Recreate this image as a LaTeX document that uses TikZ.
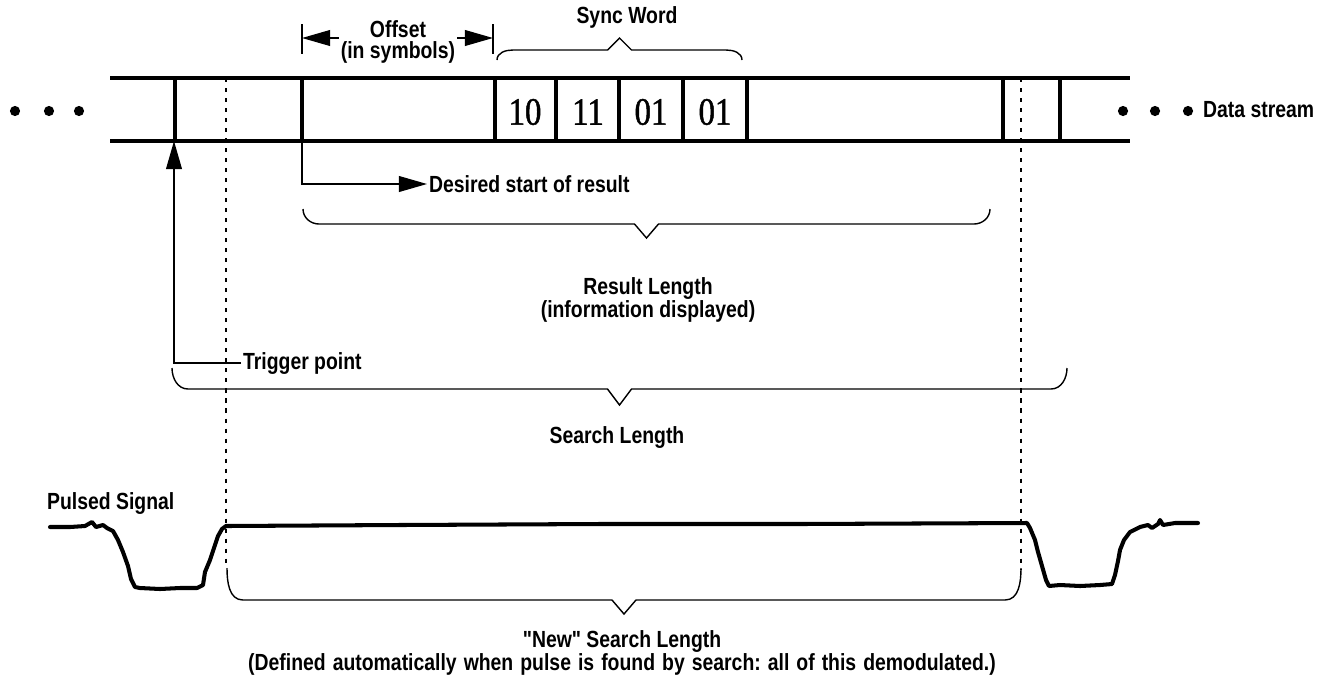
\documentclass[tikz,border=0pt]{standalone}
\usepackage{fontspec}
\newfontfamily\lblfont{Liberation Sans}[FakeStretch=0.83]
\newfontfamily\bitfont{Liberation Serif}[FakeStretch=0.85, FakeBold=1.2]
\usetikzlibrary{arrows.meta, positioning}
\tikzset{
    lbl/.style={font=\lblfont\bfseries\fontsize{13.3}{12}\selectfont, inner sep=1pt},
    bits/.style={font=\bitfont\fontsize{22}{22}\selectfont, inner sep=0pt},
    wall/.style={line width=2.2pt},
    guide/.style={line width=0.7pt, dash pattern=on 2.3pt off 3.4pt},
    brace line/.style={line width=0.8pt},
    pointer/.style={line width=0.8pt, -{Triangle[length=16pt, width=9pt]}},
    pulse/.style={line width=2.3pt, line join=round, line cap=round},
}
% brace: left x, right x, end y, line y, tip y
\newcommand{\lenbrace}[5]{%
    \pgfmathsetmacro\bmid{(#1+#2)/2}
    \pgfmathsetmacro\bdir{#4>#3 ? -90 : 90}
    \draw[brace line] (#1,#3) to[out=\bdir,in=180] (#1+16,#4) -- (\bmid-12,#4) -- (\bmid,#5)
        -- (\bmid+12,#4) -- (#2-16,#4) to[out=0,in=\bdir] (#2,#3);
}
\begin{document}
\begin{tikzpicture}[x=0.02cm, y=-0.02cm]
    \useasboundingbox (0,0) rectangle (1328,677);

    % data stream
    \draw[wall] (110,78) -- (1130,78);
    \draw[wall] (110,141) -- (1130,141);
    \foreach \x in {175,302,495,556,619,683,747,1003,1060}
        \draw[wall] (\x,78) -- (\x,141);
    \foreach \v/\x [count=\i] in {10/525,11/588,01/651,01/715}
        \node[bits] (bit\i) at (\x,112) {\v};
    \foreach \x in {15,49,79,1123,1155,1188}
        \fill (\x,111) circle[radius=2.9pt];
    \node[lbl, anchor=west] (stream) at (1201,110) {Data stream};

    % pulse edges
    \draw[guide] (226,78) -- (226,568);
    \draw[guide] (1021,78) -- (1021,570);

    % offset
    \coordinate (offl) at (302,38);
    \coordinate (offr) at (493,38);
    \node[lbl, align=center] (offset) at (398,42) {Offset\\(in symbols)};
    \draw[brace line] (302,24) -- (302,54);
    \draw[brace line] (493,24) -- (493,54);
    \draw[pointer] (offset.west |- offl) -- (offl);
    \draw[pointer] (offset.east |- offr) -- (offr);

    % sync word
    \lenbrace{497}{742}{60}{50}{38}
    \node[lbl] (sync) at (627,17) {Sync Word};

    % desired start
    \coordinate (start) at (302,141);
    \node[lbl, anchor=west] (desired) at (427,184) {Desired start of result};
    \draw[pointer] (start) |- (desired.west);

    % result length
    \lenbrace{303}{990}{209}{224}{238}
    \node[lbl, align=center] (result) at (648,300) {Result Length\\(information displayed)};

    % trigger
    \coordinate (trig) at (174,141);
    \node[lbl, anchor=west] (trigger) at (241,363) {Trigger point};
    \draw[pointer] (trigger.west) -| (trig);

    % search length
    \lenbrace{172}{1067}{368}{389}{405}
    \node[lbl] (search) at (617,437) {Search Length};

    % pulsed signal
    \node[lbl, anchor=west] (pulsed) at (45,503) {Pulsed Signal};
    \draw[pulse] (50,527) -- (70,527) -- (85,526) -- (92,522) -- (96,527) -- (103,525)
        -- (107,528) -- (113,531) -- (118,540) -- (123,552) -- (128,566) -- (131,579)
        -- (135,587) -- (140,588) -- (160,589) -- (180,588) -- (197,588) -- (203,585)
        -- (205,572) -- (210,560) -- (214,548) -- (218,536) -- (222,529) -- (226,526)
        -- (400,525) -- (600,524) -- (800,524) -- (1027,523) -- (1030,528) -- (1035,540)
        -- (1038,552) -- (1042,566) -- (1046,580) -- (1049,586) -- (1060,585) -- (1080,586)
        -- (1100,585) -- (1112,584) -- (1115,575) -- (1118,561) -- (1120,550) -- (1124,540)
        -- (1130,532) -- (1140,527) -- (1148,525) -- (1152,528) -- (1158,524) -- (1160,520)
        -- (1163,525) -- (1175,523) -- (1198,523);

    % new search length
    \lenbrace{227}{1021}{568}{600}{614}
    \node[lbl, align=center, font=\lblfont\bfseries\fontsize{13.3}{11.5}\selectfont] (newsearch) at (622,653)
        {"New" Search Length\\\frenchspacing\spaceskip=4pt\relax (Defined automatically when pulse is found by search: all of this demodulated.)};
\end{tikzpicture}
\end{document}
